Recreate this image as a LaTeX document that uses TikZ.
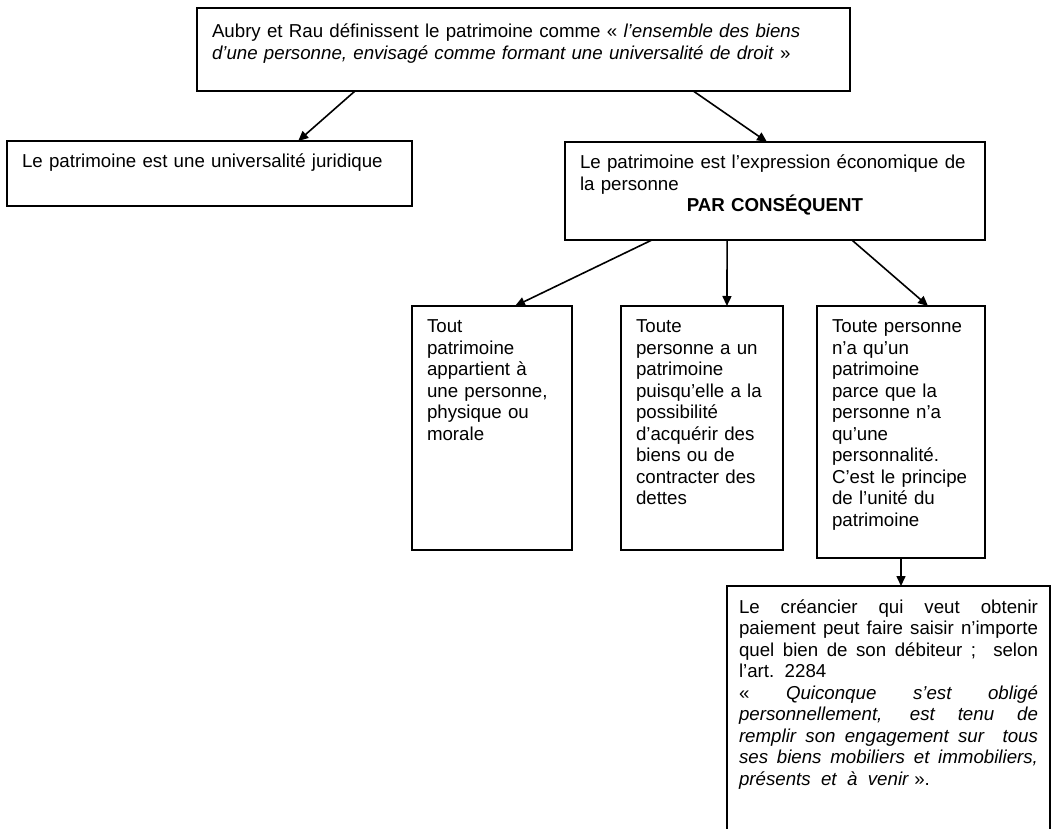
\documentclass[tikz,border=0pt]{standalone}
\usepackage{fontspec}
\setmainfont{Liberation Sans}
\usepackage{tikz}
\usetikzlibrary{calc,arrows.meta}
\tikzset{box/.style = {draw, line width=1.2pt, anchor=north west, align=left, outer sep=0pt, inner xsep=15pt, inner ysep=12pt, text height=15pt}}
\tikzset{link/.style = {line width=1.6pt}}

\begin{document}
\begin{tikzpicture}[x=1pt, y=-1pt, >={Triangle[length=10pt, width=9pt]}, font=\fontsize{18.7}{21.5}\selectfont]
  \useasboundingbox (0,0) rectangle (1053,829);

  \node [box, text width=623pt, text height=18pt, text depth=41pt] (aubry) at (197,8)
    {Aubry et Rau définissent le patrimoine comme « \textit{l’ensemble des biens}\\
     \textit{d’une personne, envisagé comme formant une universalité de droit} »};
  \node [box, text width=375pt, text depth=26pt] (univ) at (7,141)
    {Le patrimoine est une universalité juridique};
  \node [box, text width=390pt, text depth=59pt] (expr) at (565,142)
    {Le patrimoine est l’expression économique de\\ la personne\\
     \makebox[\linewidth]{\bfseries PAR CONSÉQUENT}};

  \node [box, text width=130pt, text depth=205pt] (tout) at (412,306)
    {Tout\\ patrimoine\\ appartient à\\ une personne,\\ physique ou\\ morale};
  \node [box, text width=132pt, text depth=205pt] (toute) at (621,306)
    {Toute\\ personne a un\\ patrimoine\\ puisqu’elle a la\\ possibilité\\ d’acquérir des\\ biens ou de\\ contracter des\\ dettes};
  \node [box, text width=138pt, text depth=213pt] (unique) at (817,306)
    {Toute personne\\ n’a qu’un\\ patrimoine\\ parce que la\\ personne n’a\\ qu’une\\ personnalité.\\ C’est le principe\\ de l’unité du\\ patrimoine};

  \node [box, align=justify, inner xsep=12pt, text width=299pt, text depth=235pt] (creancier) at (727,586)
    {Le créancier qui veut obtenir\linebreak
     paiement peut faire saisir n’importe\linebreak
     quel bien de son débiteur ;\ \ selon\linebreak
     l’art.\ \ 2284\\
     « \textit{Quiconque s’est obligé\linebreak
     personnellement, est tenu de\linebreak
     remplir son engagement sur\ \ tous\linebreak
     ses biens mobiliers et immobiliers,\linebreak
     présents\ \ et\ \ à\ \ venir} ».};

  \draw[->, link] ($(aubry.south west)!0.242!(aubry.south east)$) -- ($(univ.north west)!0.719!(univ.north east)$);
  \draw[->, link] ($(aubry.south west)!0.76!(aubry.south east)$) -- ($(expr.north west)!0.481!(expr.north east)$);

  \draw[->, link] ($(expr.south west)!0.207!(expr.south east)$) -- ($(tout.north west)!0.644!(tout.north east)$);
  \draw[->, link] ($(expr.south west)!0.386!(expr.south east)$) -- ($(toute.north west)!0.654!(toute.north east)$);
  \draw[->, link] ($(expr.south west)!0.683!(expr.south east)$) -- ($(unique.north west)!0.661!(unique.north east)$);

  \draw[->, link] (unique.south) -- (unique.south |- creancier.north);
\end{tikzpicture}
\end{document}
